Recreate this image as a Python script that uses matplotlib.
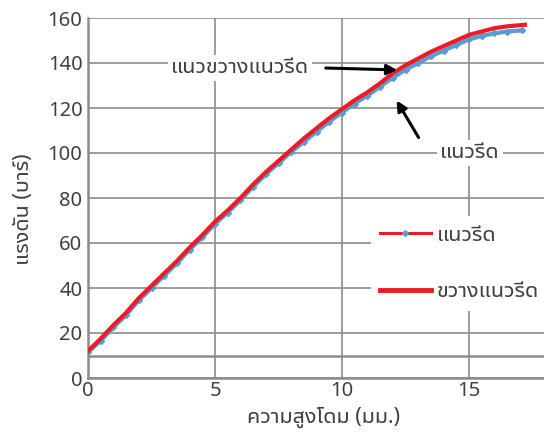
import matplotlib
matplotlib.use("Agg")
import matplotlib.pyplot as plt
from matplotlib.lines import Line2D

plt.rcParams['font.family'] = ['Noto Sans', 'Noto Sans Thai UI', 'DejaVu Sans']

# แนวรีด (blue, with markers)
x_rd = [0, 0.5, 1, 1.5, 2, 2.5, 3, 3.5, 4, 4.5, 5, 5.5, 6, 6.5, 7, 7.5, 8, 8.5,
        9, 9.5, 10, 10.5, 11, 11.5, 12, 12.5, 13, 13.5, 14, 14.5, 15, 15.5, 16, 16.5, 17.1]
y_rd = [11.5, 16.5, 22.5, 28, 34.5, 40, 45.5, 51, 57, 62.5, 68.5, 73.5, 79, 85, 90.5, 95.5, 100.5, 105,
        109.5, 114, 118, 122, 125.5, 129.5, 133.5, 137, 140, 143, 145.5, 148, 150.5, 152, 153.2, 154, 154.5]

# ขวางแนวรีด (red)
x_td = [0, 0.5, 1, 1.5, 2, 2.5, 3, 3.5, 4, 4.5, 5, 5.5, 6, 6.5, 7, 7.5, 8, 8.5,
        9, 9.5, 10, 10.5, 11, 11.5, 12, 12.5, 13, 13.5, 14, 14.5, 15, 15.5, 16, 16.5, 17.2]
y_td = [12, 17.5, 23.5, 29, 35.5, 41, 46.5, 52, 58, 63.5, 69.5, 74.5, 80, 86, 91.5, 96.5, 101.5, 106.5,
        111, 115.5, 119.5, 123.5, 127, 131, 135.5, 139, 142, 145, 147.5, 150, 152.5, 154, 155.5, 156.3, 157]

red = '#ed1c24'
blue = '#5b9bd5'
grid = '#8c8c8c'
txt = '#404040'
fs = 15.5

fig = plt.figure(figsize=(5.44, 4.38), dpi=100)
ax = fig.add_axes([88/544, 1 - 378/438, 1 - 88/544, 360/438])

ax.plot(x_rd, y_rd, color=blue, lw=3, marker='D', ms=3, zorder=3)
ax.plot(x_td, y_td, color=red, lw=3, zorder=4)

ax.set_xlim(0, 17.95)
ax.set_ylim(0, 160)
ax.set_xticks([0, 5, 10, 15])
ax.set_yticks(range(0, 161, 20))
ax.grid(True, color=grid, lw=1.2)
ax.axhline(10, color=grid, lw=1.8, zorder=1)
ax.tick_params(length=0, labelsize=14.5, labelcolor=txt, pad=4)
ax.tick_params(axis='x', pad=2)
for s in ['top', 'right']:
    ax.spines[s].set_visible(False)
for s in ['left', 'bottom']:
    ax.spines[s].set_color(grid)
    ax.spines[s].set_linewidth(1.8)

ax.set_xlabel('ความสูงโดม (มม.)', fontsize=fs, color=txt)
ax.set_ylabel('แรงดัน (บาร์)', fontsize=fs, color=txt)
ax.xaxis.set_label_coords(0.5175, -0.08)
ax.yaxis.set_label_coords(-0.118, 0.47)

wbox = dict(facecolor='white', edgecolor='none', pad=2)
ax.text(5.98, 137.8, 'แนวขวางแนวรีด', fontsize=fs, color=txt, ha='center', va='center', bbox=wbox, zorder=5)
ax.annotate('', xy=(12.28, 136.9), xytext=(9.25, 137.8),
            arrowprops=dict(arrowstyle='-|>', color='black', lw=2.2, mutation_scale=15), zorder=6)
ax.text(15.04, 100, 'แนวรีด', fontsize=fs, color=txt, ha='center', va='center', bbox=wbox, zorder=5)
ax.annotate('', xy=(12.09, 124.4), xytext=(13.07, 105.8),
            arrowprops=dict(arrowstyle='-|>', color='black', lw=2.2, mutation_scale=15), zorder=6)

handles = [Line2D([], [], color=red, lw=2.2, marker='D', ms=3, mfc=blue, mec=blue),
           Line2D([], [], color=red, lw=3.5)]
leg = ax.legend(handles, ['แนวรีด', 'ขวางแนวรีด'], loc='upper left',
                bbox_to_anchor=(371/544, 1 - 216/438), bbox_transform=fig.transFigure,
                fontsize=fs, frameon=True, fancybox=False, framealpha=1, borderaxespad=0,
                handlelength=2.4, handletextpad=0.25, labelspacing=1.65, borderpad=0.4)
leg.get_frame().set_edgecolor('none')
for t in leg.get_texts():
    t.set_color(txt)
leg.set_zorder(7)

fig.savefig('out.png')
